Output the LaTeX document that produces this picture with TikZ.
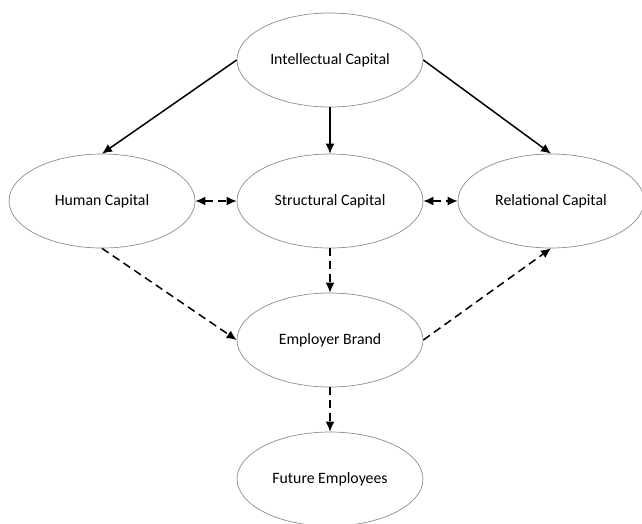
\documentclass[tikz,border=0pt]{standalone}
\usepackage{fontspec}
\setmainfont{Carlito}
\usetikzlibrary{shapes.geometric,arrows.meta}
\tikzset{
  capnode/.style={ellipse,draw=black!45,line width=0.7pt,minimum width=186pt,minimum height=94pt,inner sep=0pt,font=\fontsize{15.8}{19}\selectfont},
  link/.style={->,line width=1.5pt},
  dlink/.style={->,line width=1.5pt,dash pattern=on 8pt off 5pt}
}
\begin{document}
\begin{tikzpicture}[>={Latex[length=10pt,width=9pt]},x=1pt,y=-1pt]
\useasboundingbox(0,0) rectangle (642,523);
\node(ic) at (330,60)[capnode]{Intellectual Capital};
\node(hc) at (102,201)[capnode]{Human Capital};
\node(sc) at (330,201)[capnode]{Structural Capital};
\node(rc) at (551,201)[capnode]{Relational Capital};
\node(eb) at (330,340)[capnode]{Employer Brand};
\node(fe) at (330,479)[capnode]{Future Employees};

\draw[link](ic.west)--(hc.north);
\draw[link](ic.south)--(sc.north);
\draw[link](ic.east)--(rc.north);
\draw[dlink,<->](hc.east)--(sc.west);
\draw[dlink,<->](sc.east)--(rc.west);
\draw[dlink](hc.south)--(eb.west);
\draw[dlink](sc.south)--(eb.north);
\draw[dlink](eb.east)--(rc.south);
\draw[dlink](eb.south)--(fe.north);

\end{tikzpicture}
\end{document}
